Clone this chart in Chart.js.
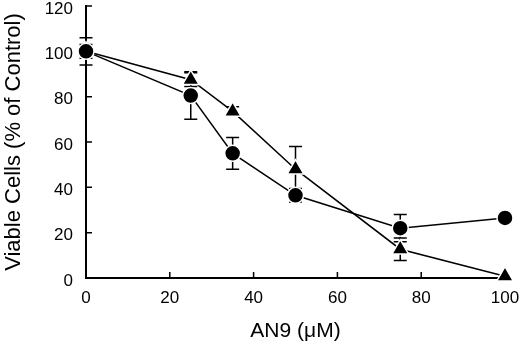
<!DOCTYPE html>
<html>
<head>
<meta charset="utf-8">
<script src="https://cdn.jsdelivr.net/npm/chart.js@4.4.1/dist/chart.umd.min.js"></script>
<style>
  html, body { margin: 0; padding: 0; background: #fff; }
  #wrap { width: 520px; height: 346px; }
</style>
</head>
<body>
<div id="wrap"><canvas id="viability"></canvas></div>
<script>
// AN9 concentration (uM)
const doses = [0, 25, 35, 50, 75, 100];

// viable cells, % of control
const circleValues = [100, 80.5, 55, 36.5, 22, 26.5];
const circleErrors = [6, 10.5, 7, 3, 6, 0];

const triangleValues = [100, 87.5, 73.5, 48, 12.7, 0.8];
const triangleErrors = [3, 3, 2, 10, 5, 0];

const xTicks = [0, 20, 40, 60, 80, 100];
const yTicks = [0, 20, 40, 60, 80, 100, 120];

function toPoints(values, errors) {
    return doses.map((d, i) => ({ x: d, y: values[i], err: errors[i] }));
}

// error bars, drawn under the markers
const errorBars = {
    id: 'errorBars',
    beforeDatasetsDraw(chart) {
        const ctx = chart.ctx;
        const xs = chart.scales.x;
        const ys = chart.scales.y;
        ctx.save();
        ctx.strokeStyle = '#000';
        ctx.lineWidth = 1.5;
        chart.data.datasets.forEach(ds => {
            ds.data.forEach(p => {
                if (!p.err) return;
                const px = xs.getPixelForValue(p.x);
                const top = ys.getPixelForValue(p.y + p.err);
                const bot = ys.getPixelForValue(p.y - p.err);
                ctx.beginPath();
                ctx.moveTo(px, top);
                ctx.lineTo(px, bot);
                ctx.moveTo(px - 6.5, top);
                ctx.lineTo(px + 6.5, top);
                ctx.moveTo(px - 6.5, bot);
                ctx.lineTo(px + 6.5, bot);
                ctx.stroke();
            });
        });
        ctx.restore();
    }
};

// tick marks pointing into the plot
const innerTicks = {
    id: 'innerTicks',
    afterDraw(chart) {
        const ctx = chart.ctx;
        const xs = chart.scales.x;
        const ys = chart.scales.y;
        const area = chart.chartArea;
        ctx.save();
        ctx.strokeStyle = '#000';
        ctx.lineWidth = 1.5;
        ctx.beginPath();
        xTicks.forEach(v => {
            if (v === 0) return;
            const px = xs.getPixelForValue(v);
            ctx.moveTo(px, area.bottom);
            ctx.lineTo(px, area.bottom - 6);
        });
        yTicks.forEach(v => {
            if (v === 0) return;
            const py = ys.getPixelForValue(v);
            ctx.moveTo(area.left, py);
            ctx.lineTo(area.left + 6, py);
        });
        ctx.stroke();
        ctx.restore();
    }
};

const family = 'Arial, "Liberation Sans", Helvetica, sans-serif';
const tickFont = { family: family, size: 17 };
const titleFont = { family: family, size: 22 };

new Chart(document.getElementById('viability'), {
    type: 'scatter',
    data: {
        datasets: [
            {
                label: 'circle',
                data: toPoints(circleValues, circleErrors),
                showLine: true,
                borderColor: '#000',
                borderWidth: 1.5,
                pointStyle: 'circle',
                pointRadius: 8,
                pointBackgroundColor: '#000',
                pointBorderColor: '#fff',
                pointBorderWidth: 1.5,
                clip: false
            },
            {
                label: 'triangle',
                data: toPoints(triangleValues, triangleErrors),
                showLine: true,
                borderColor: '#000',
                borderWidth: 1.5,
                pointStyle: 'triangle',
                pointRadius: 9.5,
                pointBackgroundColor: '#000',
                pointBorderColor: '#fff',
                pointBorderWidth: 1.5,
                clip: false
            }
        ]
    },
    options: {
        responsive: true,
        maintainAspectRatio: false,
        animation: false,
        layout: { autoPadding: false, padding: { left: 0, right: 15, top: 6, bottom: 2 } },
        plugins: {
            legend: { display: false },
            tooltip: { enabled: false }
        },
        scales: {
            x: {
                type: 'linear',
                min: 0,
                max: 100,
                afterBuildTicks: axis => { axis.ticks = xTicks.map(v => ({ value: v })); },
                afterFit: axis => {
                    axis.height = 346 - 2 - 278;
                    axis.paddingLeft = 0;
                    axis.paddingRight = 0;
                },
                border: { display: true, color: '#000', width: 2 },
                grid: { display: false, drawTicks: false },
                ticks: { color: '#000', font: tickFont, padding: 10, maxRotation: 0 },
                title: {
                    display: true,
                    text: 'AN9 (μM)',
                    color: '#000',
                    font: { family: family, size: 21 },
                    padding: { top: 4, bottom: 0 }
                }
            },
            y: {
                min: 0,
                max: 120,
                afterBuildTicks: axis => { axis.ticks = yTicks.map(v => ({ value: v })); },
                afterFit: axis => {
                    axis.width = 86;
                    axis.paddingTop = 0;
                    axis.paddingBottom = 0;
                },
                border: { display: true, color: '#000', width: 2 },
                grid: { display: false, drawTicks: false },
                ticks: { color: '#000', font: tickFont, padding: 13, labelOffset: 3 },
                title: {
                    display: true,
                    text: 'Viable Cells (% of Control)',
                    color: '#000',
                    font: titleFont,
                    padding: { top: 1, bottom: 0 }
                }
            }
        }
    },
    plugins: [errorBars, innerTicks]
});
</script>
</body>
</html>
